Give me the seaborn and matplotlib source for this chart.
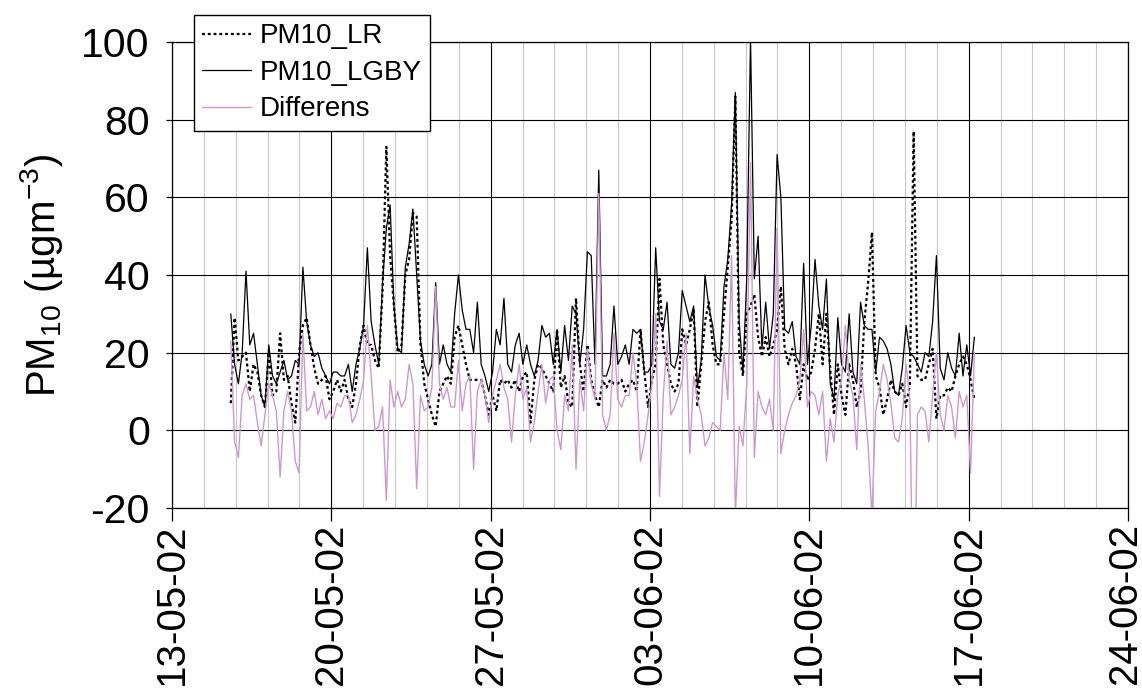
import numpy as np
import pandas as pd
import matplotlib
matplotlib.use("Agg")
import matplotlib.pyplot as plt
import matplotlib.dates as mdates
import matplotlib.transforms as mtransforms
from matplotlib.ticker import FixedLocator
import seaborn as sns

# ---------------- data (4-hourly) ----------------
start_time = "2002-05-15 14:00"
step = "4h"

pm10_lgby = [
    30, 17, 12, 20, 41, 22, 25, 17, 9, 6, 22, 14, 12, 15, 18, 13, 14, 18, 17, 42,
    28, 22, 19, 20, 16, 14, 12, 15, 15, 14, 14, 17, 10, 17, 21, 27, 47, 28, 22, 17,
    38, 52, 58, 32, 21, 20, 42, 48, 57, 40, 23, 17, 14, 17, 38, 17, 22, 17, 15, 30,
    40, 31, 26, 26, 20, 33, 17, 14, 10, 15, 26, 22, 34, 17, 15, 22, 25, 17, 22, 17,
    14, 18, 27, 24, 25, 17, 26, 15, 27, 18, 32, 30, 17, 26, 46, 45, 17, 67, 14, 14,
    17, 32, 17, 19, 22, 17, 26, 25, 26, 15, 15, 17, 47, 28, 26, 33, 17, 16, 20, 36,
    32, 28, 32, 11, 18, 40, 32, 27, 19, 18, 37, 44, 58, 87, 28, 15, 39, 101, 39, 50,
    21, 33, 21, 30, 71, 60, 26, 25, 28, 19, 17, 43, 17, 27, 44, 32, 26, 39, 12, 8,
    29, 17, 15, 30, 15, 12, 33, 27, 26, 26, 15, 24, 23, 21, 17, 10, 9, 16, 27, 20,
    19, 17, 15, 20, 19, 28, 45, 16, 13, 20, 16, 14, 25, 14, 22, 14, 24,
]

pm10_lr = [
    7, 29, 18, 19, 20, 10, 17, 15, 9, 6, 20, 9, 10, 25, 13, 14, 7, 2, 20, 27,
    29, 22, 16, 12, 13, 14, 8, 10, 13, 10, 13, 8, 6, 12, 22, 27, 22, 22, 18, 16,
    36, 73, 45, 32, 20, 22, 40, 44, 56, 55, 22, 12, 8, 4, 1, 10, 12, 14, 12, 24,
    27, 22, 17, 13, 13, 13, 13, 9, 4, 9, 5, 13, 12, 13, 11, 13, 10, 14, 15, 2,
    13, 17, 16, 14, 12, 10, 26, 11, 14, 7, 6, 34, 17, 10, 22, 13, 9, 6, 13, 11,
    13, 12, 12, 13, 10, 12, 13, 10, 26, 15, 6, 13, 17, 39, 22, 17, 12, 10, 12, 26,
    22, 26, 31, 6, 17, 28, 33, 22, 17, 17, 30, 42, 54, 86, 20, 14, 30, 32, 35, 24,
    19, 24, 19, 22, 26, 37, 21, 17, 21, 17, 8, 17, 13, 15, 21, 30, 17, 30, 16, 4,
    17, 9, 4, 17, 13, 6, 10, 28, 38, 51, 14, 11, 4, 8, 13, 10, 9, 12, 6, 12,
    77, 14, 13, 13, 17, 21, 3, 9, 9, 11, 10, 14, 17, 19, 17, 13, 8,
]

differens = [
    23, -3, -7, 9, 12, 8, 9, 2, -4, 4, 12, 9, 5, -12, 5, 10, 5, -8, -11, 25,
    5, 6, 10, 4, 8, 3, 5, 3, 7, 6, 9, 9, 2, 4, 8, 13, 27, 14, 0, 1,
    6, -18, 13, 6, 10, 6, 8, 17, 12, -15, 9, 5, 6, 11, 37, 12, 8, 11, 6, 6,
    18, 5, 12, 14, -10, 10, 13, 9, 2, 9, 13, 17, 11, 8, -3, 9, 17, 8, 11, -3,
    2, 10, 17, 7, 13, 14, 0, -5, 9, 5, 22, -10, 13, 5, 21, 12, 8, 61, 4, 0,
    4, 25, 8, 6, 9, 9, 20, 12, -8, -3, 4, 12, 30, -17, 9, 23, 4, 6, 9, 13,
    25, -6, 14, 8, 4, -4, -2, 2, 1, 0, 20, 8, 45, -22, 1, -4, 12, 69, -7, 10,
    6, 4, 8, 0, 52, -6, 0, 4, 7, 9, 13, 26, 6, 10, 9, 4, 10, -8, 3, -3,
    9, 13, 27, 13, 9, -5, 17, 8, -4, -22, 5, 10, 17, 13, 7, -2, -3, 3, 17, 8,
    -58, 4, 6, 5, -3, 9, 20, 4, 0, 9, 6, -2, 10, 6, 9, -11, 20,
]

series_names = ["PM10_LR", "PM10_LGBY", "Differens"]
y_ticks = [-20, 0, 20, 40, 60, 80, 100]
x_start, x_end = "2002-05-13", "2002-06-24"

# ---------------- styling ----------------
sns.set_style("white")
plt.rcParams["font.family"] = ["Liberation Sans", "DejaVu Sans"]
plt.rcParams["mathtext.fontset"] = "custom"
plt.rcParams["mathtext.rm"] = "Liberation Sans"
plt.rcParams["mathtext.it"] = "Liberation Sans:italic"
plt.rcParams["mathtext.bf"] = "Liberation Sans:bold"
plt.rcParams["axes.unicode_minus"] = False
for key in ["text.color", "axes.labelcolor", "xtick.color", "ytick.color",
            "axes.edgecolor"]:
    plt.rcParams[key] = "black"

times = pd.date_range(start_time, periods=len(pm10_lgby), freq=step)
df = pd.DataFrame({"time": times, series_names[0]: pm10_lr,
                   series_names[1]: pm10_lgby, series_names[2]: differens})

W, H = 1142, 691
fig = plt.figure(figsize=(W / 100, H / 100), dpi=100)
ax = fig.add_axes([172 / W, 1 - 508 / H, (1128 - 172) / W, (508 - 42) / H])

sns.lineplot(data=df, x="time", y=series_names[0], ax=ax, color="black",
             linewidth=1.6, linestyle=(0, (1.3, 1.3)), label=series_names[0], zorder=3)
sns.lineplot(data=df, x="time", y=series_names[1], ax=ax, color="black",
             linewidth=0.9, label=series_names[1], zorder=4)
sns.lineplot(data=df, x="time", y=series_names[2], ax=ax, color="#cc99cc",
             linewidth=1.0, label=series_names[2], zorder=5)

ax.set_ylim(y_ticks[0], y_ticks[-1])
ax.yaxis.set_major_locator(FixedLocator(y_ticks))
ax.set_xlim(pd.Timestamp(x_start), pd.Timestamp(x_end))
major = pd.date_range(x_start, x_end, freq="7D")
minor = pd.date_range(x_start, x_end, freq="33.6h")
ax.xaxis.set_major_locator(FixedLocator(mdates.date2num(major)))
ax.xaxis.set_minor_locator(FixedLocator(mdates.date2num(minor)))
ax.xaxis.set_major_formatter(mdates.DateFormatter("%d-%m-%y"))

ax.grid(True, which="major", axis="both", color="black", linewidth=0.8, zorder=0)
ax.grid(True, which="minor", axis="x", color="#c8c8c8", linewidth=0.8, zorder=0)
ax.set_axisbelow(True)
for s in ax.spines.values():
    s.set_color("black")
    s.set_linewidth(0.9)

ax.tick_params(axis="x", which="major", direction="out", length=9, width=0.9,
               pad=2, labelsize=29, labelrotation=90, bottom=True,
               color="black", labelcolor="black")
ax.tick_params(axis="x", which="minor", length=0)
ax.tick_params(axis="y", which="major", direction="out", length=4, width=0.9,
               pad=12, labelsize=29.5, left=True, color="black", labelcolor="black")

ax.set_xlabel("")
ax.set_ylabel(r"PM$_{\mathrm{10}}$ (µgm$^{\mathrm{-3}}$)", fontsize=29,
              labelpad=12, color="black")

leg = ax.legend(loc="upper left", bbox_to_anchor=(194 / W, 1 - 15 / H),
                bbox_transform=fig.transFigure, fontsize=20, frameon=True,
                fancybox=False, edgecolor="black", framealpha=1, borderaxespad=0,
                handlelength=1.75, handletextpad=0.3, labelspacing=0.38,
                borderpad=0.3)
leg.get_frame().set_linewidth(1.0)
for t in leg.get_texts():
    t.set_color("black")
leg.set_zorder(10)

# keep the last date label inside the canvas
fig.canvas.draw()
last_label = ax.get_xticklabels()[-1]
last_label.set_transform(last_label.get_transform() +
                         mtransforms.ScaledTranslation(-3 / 100, 0, fig.dpi_scale_trans))

fig.savefig("out.png", dpi=100)
